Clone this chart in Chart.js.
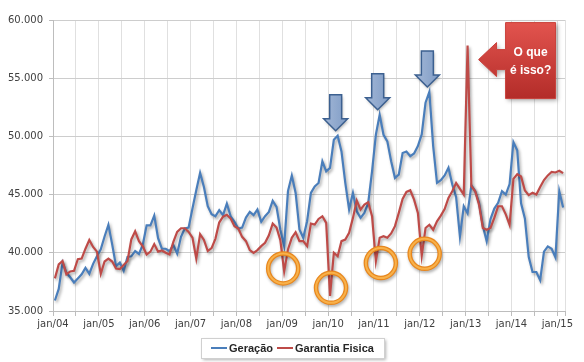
<!DOCTYPE html>
<html>
<head>
<meta charset="utf-8">
<script src="https://cdn.jsdelivr.net/npm/chart.js@4.4.1/dist/chart.umd.min.js"></script>
<style>
  body { margin: 0; background: #fff; }
</style>
</head>
<body>
<canvas id="myChart" width="584" height="362"></canvas>
<script>
// monthly series, jan/04 .. fev/15
var geracao = [
  35900, 36900, 39150, 38300, 37900, 37450, 37800, 38150, 38700, 38200, 39050, 39700,
  40300, 41400, 42400, 40700, 38850, 39150, 38450, 39650, 39700, 40150, 39900, 40700,
  42350, 42350, 43200, 41250, 40350, 40350, 40140, 40660, 39940, 41370, 42090, 42170,
  43800, 45370, 46860, 45660, 44000, 43310, 43140, 43660, 43230, 44230, 43140, 42660,
  42090, 42170, 43030, 43510, 43230, 43710, 42660, 43140, 43510, 44460, 43940, 42000,
  40600, 45300, 46630, 45140, 42000, 41290, 42710, 45140, 45710, 46000, 47860, 47000,
  47290, 49710, 50060, 48710, 46000, 43710, 45140, 43570, 43000, 43430, 44290, 47000,
  50140, 51860, 50140, 49570, 47860, 46430, 46710, 48570, 48700, 48300, 48530, 49170,
  50170, 52900, 53820, 49170, 46010, 46240, 46640, 47300, 45860, 44800, 41400, 44000,
  43400, 45800, 45300, 44300, 42300, 41000, 42900, 43800, 44300, 45300, 45000, 45900,
  49500, 48800, 44250, 42950, 39650, 38350, 38350, 37650, 40100, 40550, 40350, 39600,
  45300, 43900
];

var garantiaFisica = [
  37800, 39000, 39300, 38150, 38400, 38450, 39450, 39500, 40350, 41100, 40500, 40100,
  38200, 39250, 39500, 39250, 38650, 38600, 38950, 39300, 41150, 41850, 41000, 40550,
  39850, 40100, 40750, 40100, 40200, 40000, 39860, 40940, 41800, 42110, 42110, 41800,
  41300, 39500, 41600, 41100, 40150, 40400, 41200, 42600, 43100, 43260, 42940, 42290,
  42090, 41370, 41000, 40230, 40000, 40230, 40570, 40860, 41510, 42510, 42170, 41090,
  38400, 40290, 41290, 41770, 41000, 41000, 40570, 42510, 42430, 42910, 43140, 42570,
  36300, 40000, 39710, 41000, 41140, 41710, 43000, 44490, 43710, 44140, 44340, 43140,
  39290, 41290, 41430, 41290, 41660, 42290, 43430, 44630, 45230, 45370, 44570, 43420,
  39740, 42130, 42410, 41980, 42700, 43190, 43760, 44710, 45290, 46000, 45490, 45000,
  57800, 45720, 45290, 44140, 42130, 41980, 42130, 43000, 44000, 44000, 43300, 42400,
  46350, 46750, 46550, 45350, 44950, 45150, 45000, 45650, 46250, 46650, 46950, 46900,
  47050, 46850
];

var tickLabels = ['jan/04', 'jan/05', 'jan/06', 'jan/07', 'jan/08', 'jan/09',
                  'jan/10', 'jan/11', 'jan/12', 'jan/13', 'jan/14', 'jan/15'];

// highlighted points
var picosGeracao = [74, 85, 98];
var quedasGarantia = [60, 72, 84, 96];
var circleNudge = [[-1, -3], [1, -8], [5, 2], [3, -2]];
var picoEstranho = 108;

var blue = '#4a7ebb';
var red = '#be4b48';
var tickFont = { family: 'DejaVu Sans', size: 10 };

function toPoints(arr) {
  return arr.map(function (v, i) { return { x: i + 0.5, y: v }; });
}

var lineShadow = {
  id: 'lineShadow',
  beforeDatasetDraw: function (chart) {
    var c = chart.ctx;
    c.save();
    c.shadowColor = 'rgba(0,0,0,0.35)';
    c.shadowBlur = 3;
    c.shadowOffsetX = 1.5;
    c.shadowOffsetY = 2;
  },
  afterDatasetDraw: function (chart) {
    chart.ctx.restore();
  }
};

function downArrow(c, tx, ty) {
  c.save();
  c.shadowColor = 'rgba(0,0,0,0.3)';
  c.shadowBlur = 3;
  c.shadowOffsetX = 1;
  c.shadowOffsetY = 2;
  var g = c.createLinearGradient(tx - 12, 0, tx + 12, 0);
  g.addColorStop(0, '#a3b7d6');
  g.addColorStop(1, '#7f9cc6');
  c.beginPath();
  c.moveTo(tx, ty);
  c.lineTo(tx - 12, ty - 12);
  c.lineTo(tx - 6, ty - 12);
  c.lineTo(tx - 6, ty - 36);
  c.lineTo(tx + 6, ty - 36);
  c.lineTo(tx + 6, ty - 12);
  c.lineTo(tx + 12, ty - 12);
  c.closePath();
  c.fillStyle = g;
  c.fill();
  c.shadowColor = 'transparent';
  c.lineWidth = 1.5;
  c.strokeStyle = '#3c6090';
  c.stroke();
  c.restore();
}

var annotations = {
  id: 'annotations',
  afterDatasetsDraw: function (chart) {
    var c = chart.ctx, x = chart.scales.x, y = chart.scales.y;

    picosGeracao.forEach(function (i) {
      downArrow(c, x.getPixelForValue(i + 0.5) - 2, y.getPixelForValue(geracao[i]) - 5);
    });

    quedasGarantia.forEach(function (i, k) {
      var cx = x.getPixelForValue(i + 0.5) + circleNudge[k][0];
      var cy = y.getPixelForValue(garantiaFisica[i]) + circleNudge[k][1];
      c.save();
      c.shadowColor = 'rgba(0,0,0,0.3)';
      c.shadowBlur = 3;
      c.shadowOffsetX = 1;
      c.shadowOffsetY = 2;
      c.beginPath();
      c.arc(cx, cy, 15, 0, Math.PI * 2);
      c.lineWidth = 4.5;
      c.strokeStyle = '#e8871e';
      c.stroke();
      c.shadowColor = 'transparent';
      c.beginPath();
      c.arc(cx, cy, 15, 0, Math.PI * 2);
      c.lineWidth = 2;
      c.strokeStyle = '#f8b14a';
      c.stroke();
      c.restore();
    });

    // callout "O que é isso?"
    var tx = x.getPixelForValue(picoEstranho + 0.5) + 11;
    var ty = y.getPixelForValue(garantiaFisica[picoEstranho]) + 14;
    c.save();
    c.shadowColor = 'rgba(0,0,0,0.35)';
    c.shadowBlur = 4;
    c.shadowOffsetX = 2;
    c.shadowOffsetY = 2;
    var g = c.createLinearGradient(0, ty - 37, 0, ty + 39);
    g.addColorStop(0, '#e2544e');
    g.addColorStop(1, '#b32c29');
    c.beginPath();
    c.moveTo(tx, ty);
    c.lineTo(tx + 18, ty - 17);
    c.lineTo(tx + 18, ty - 10);
    c.lineTo(tx + 27, ty - 10);
    c.lineTo(tx + 27, ty - 37);
    c.lineTo(tx + 77, ty - 37);
    c.lineTo(tx + 77, ty + 39);
    c.lineTo(tx + 27, ty + 39);
    c.lineTo(tx + 27, ty + 10);
    c.lineTo(tx + 18, ty + 10);
    c.lineTo(tx + 18, ty + 17);
    c.closePath();
    c.fillStyle = g;
    c.fill();
    c.shadowColor = 'transparent';
    c.lineWidth = 1;
    c.strokeStyle = '#c9403b';
    c.stroke();
    c.fillStyle = '#ffffff';
    c.font = 'bold 12px "Liberation Sans"';
    c.textAlign = 'center';
    c.textBaseline = 'middle';
    c.fillText('O que', tx + 52, ty - 7);
    c.fillText('é isso?', tx + 52, ty + 11);
    c.restore();
  }
};

var legendBox = {
  id: 'legendBox',
  afterDraw: function (chart) {
    var c = chart.ctx;
    var items = [
      { text: 'Geração', color: blue, x: 211 },
      { text: 'Garantia Fisica', color: red, x: 277 }
    ];
    c.save();
    c.shadowColor = 'rgba(0,0,0,0.3)';
    c.shadowBlur = 3;
    c.shadowOffsetX = 2;
    c.shadowOffsetY = 2;
    c.fillStyle = '#fff';
    c.fillRect(201, 338, 183, 20);
    c.shadowColor = 'transparent';
    c.strokeStyle = '#d0d0d0';
    c.lineWidth = 1;
    c.strokeRect(201.5, 338.5, 183, 20);
    c.font = 'bold 11px "Liberation Sans"';
    c.textBaseline = 'middle';
    c.textAlign = 'left';
    items.forEach(function (it) {
      c.beginPath();
      c.moveTo(it.x, 348);
      c.lineTo(it.x + 16, 348);
      c.strokeStyle = it.color;
      c.lineWidth = 2;
      c.stroke();
      c.fillStyle = '#262626';
      c.fillText(it.text, it.x + 18, 348.5);
    });
    c.restore();
  }
};

var ctx = document.getElementById('myChart');

var myChart = new Chart(ctx, {
  type: 'line',
  data: {
    datasets: [{
      label: 'Geração',
      data: toPoints(geracao),
      borderColor: blue,
      borderWidth: 2.2,
      pointRadius: 0,
      fill: false,
      order: 1
    }, {
      label: 'Garantia Fisica',
      data: toPoints(garantiaFisica),
      borderColor: red,
      borderWidth: 2.2,
      pointRadius: 0,
      fill: false,
      order: 0
    }]
  },
  options: {
    responsive: false,
    animation: false,
    layout: { padding: { top: 20, right: 19, left: 0, bottom: 0 } },
    plugins: {
      legend: { display: false },
      tooltip: { enabled: false }
    },
    scales: {
      x: {
        type: 'linear',
        min: 0,
        max: 134,
        afterFit: function (s) { s.height = 51; },
        afterBuildTicks: function (s) {
          var t = [];
          for (var v = 0; v <= 132; v += 6) t.push({ value: v });
          t.push({ value: 134 });
          s.ticks = t;
        },
        ticks: {
          autoSkip: false,
          maxRotation: 0,
          padding: 2,
          font: tickFont,
          color: '#404040',
          callback: function (v) { return v % 12 === 0 ? tickLabels[v / 12] : ''; }
        },
        grid: { color: '#e0e0e0', tickLength: 5, tickColor: '#bdbdbd' },
        border: { color: '#bdbdbd' }
      },
      y: {
        min: 35000,
        max: 60000,
        afterFit: function (s) { s.width = 53; },
        ticks: {
          stepSize: 5000,
          padding: 6,
          font: tickFont,
          color: '#404040',
          callback: function (v) { return (v / 1000).toFixed(3); }
        },
        grid: { color: '#cdcdcd', tickLength: 4, tickColor: '#bdbdbd' },
        border: { color: '#bdbdbd' }
      }
    }
  },
  plugins: [lineShadow, annotations, legendBox]
});
</script>
</body>
</html>
